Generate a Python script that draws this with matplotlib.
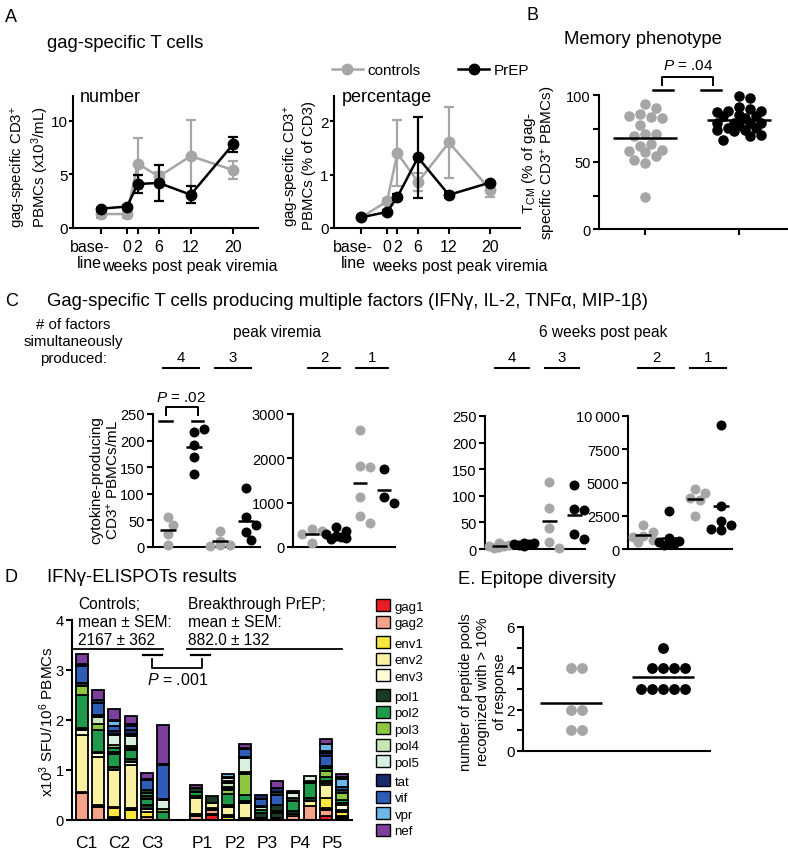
import numpy as np
import matplotlib
matplotlib.use('Agg')
import matplotlib.pyplot as plt
import matplotlib.transforms as mtrans
from matplotlib.patches import Patch
from matplotlib.lines import Line2D

plt.rcParams['font.family'] = ['Liberation Sans', 'DejaVu Sans']
plt.rcParams['mathtext.fontset'] = 'custom'
plt.rcParams['mathtext.rm'] = 'Liberation Sans'
plt.rcParams['mathtext.it'] = 'Liberation Sans:italic'
plt.rcParams['mathtext.bf'] = 'Liberation Sans:bold'

# ---------------- DATA ----------------
# Panel A
weeks_x = [-5, 0, 2, 6, 12, 20]
weeks_labels = ['base-\nline', '0', '2', '6', '12', '20']
num_ctrl = [1.3, 1.3, 6.0, 4.8, 6.7, 5.4]
num_ctrl_sem = [0.4, 0.4, 2.4, 0.4, 3.4, 0.8]
num_prep = [1.8, 2.0, 4.1, 4.2, 3.1, 7.8]
num_prep_sem = [0.1, 0.1, 0.8, 1.65, 0.8, 0.7]
pct_ctrl = [0.2, 0.5, 1.4, 0.86, 1.6, 0.72]
pct_ctrl_sem = [0.03, 0.05, 0.62, 0.16, 0.66, 0.14]
pct_prep = [0.2, 0.3, 0.58, 1.32, 0.62, 0.85]
pct_prep_sem = [0.02, 0.03, 0.05, 0.76, 0.05, 0.03]

# Panel B (% TCM)
tcm_ctrl = [93.3, 90.1, 86.0, 84.5, 83.3, 82.8, 77.8, 70.9, 70.9, 69.2,
            63.8, 61.8, 58.6, 58.1, 57.6, 54.4, 51.2, 49.5, 23.6]
tcm_prep = [99.3, 97.5, 91.4, 89.4, 88.4, 88.4, 87.0, 85.2, 84.5, 84.5,
            82.8, 79.0, 79.0, 79.0, 79.0, 77.8, 75.4, 75.4, 74.1, 74.1,
            72.9, 70.4, 69.7, 66.7]

# Panel C (cytokine-producing cells/mL)
peak_f4_ctrl = [57, 41, 24, 4]
peak_f4_prep = [217, 221, 192, 169, 137]
peak_f3_ctrl = [31, 12, 4, 2, 3]
peak_f3_prep = [110, 56, 41, 29, 13]
peak_f2_ctrl = [406, 368, 293, 83]
peak_f2_prep = [440, 360, 300, 250, 200, 180, 220]
peak_f1_ctrl = [2650, 1820, 1800, 1120, 700, 550]
peak_f1_prep = [1760, 1120, 1000]
wk6_f4_ctrl = [12, 8, 6, 5, 3, 2]
wk6_f4_prep = [12, 11, 10, 9, 8, 6]
wk6_f3_ctrl = [126, 78, 40, 14, 1]
wk6_f3_prep = [120, 76, 74, 28, 19]
wk6_f2_ctrl = [1800, 1250, 1000, 900, 650, 500]
wk6_f2_prep = [2850, 800, 600, 500, 400, 350, 300]
wk6_f1_ctrl = [4500, 4200, 3800, 3700, 2500]
wk6_f1_prep = [9300, 3200, 2100, 1800, 1500, 1450]

# Panel D (x10^3 SFU / 10^6 PBMCs), stacked segments bottom -> top
pool_names = ['gag1', 'gag2', 'env1', 'env2', 'env3', 'pol1', 'pol2', 'pol3',
              'pol4', 'pol5', 'tat', 'vif', 'vpr', 'nef']
pool_colors = ['#ec1c24', '#f4a38a', '#f8e73c', '#faf0a2', '#fefbd8', '#1b3a26',
               '#1f9a4a', '#8dc63f', '#c8e6b4', '#d8f0e2', '#1b2a6b', '#2e5cb6',
               '#6cb6e8', '#7d3f9c']
subjects = ['C1', 'C2', 'C3', 'P1', 'P2', 'P3', 'P4', 'P5']
C1a = [('gag2', .54), ('pol1', .03), ('env2', 1.14), ('env3', .09), ('pol1', .04), ('pol2', .67),
       ('pol3', .18), ('pol1', .06), ('vif', .33), ('tat', .04), ('nef', .20)]
C1b = [('gag2', .27), ('pol1', .03), ('env2', .97), ('env3', .07), ('pol1', .03), ('pol2', .43),
       ('pol3', .12), ('pol4', .14), ('pol1', .04), ('vif', .24), ('tat', .06), ('nef', .21)]
C2a = [('gag2', .03), ('pol1', .03), ('env1', .18), ('pol1', .03), ('env2', .74), ('pol1', .05),
       ('pol2', .26), ('pol1', .04), ('pol2', .08), ('pol3', .06), ('pol5', .20), ('pol1', .03),
       ('tat', .06), ('vif', .10), ('vpr', .09), ('tat', .03), ('nef', .21)]
C2b = [('env1', .21), ('pol1', .03), ('env2', .87), ('env3', .06), ('pol1', .06), ('pol2', .17),
       ('pol1', .04), ('pol3', .04), ('pol5', .21), ('pol1', .04), ('tat', .07), ('vif', .09),
       ('pol1', .03), ('nef', .16)]
C3a = [('gag2', .06), ('env1', .10), ('env3', .06), ('pol1', .08), ('pol2', .12), ('pol1', .06),
       ('pol2', .07), ('pol1', .05), ('vif', .20), ('tat', .03), ('nef', .12)]
C3b = [('pol2', .17), ('pol3', .05), ('pol5', .18), ('pol1', .02), ('vif', .69), ('pol1', .02),
       ('nef', .77)]
P1a = [('gag2', .08), ('pol1', .04), ('env2', .32), ('pol1', .05), ('pol2', .08), ('pol1', .07),
       ('nef', .06)]
P1b = [('gag1', .10), ('pol1', .03), ('gag2', .08), ('pol1', .04), ('env2', .09), ('pol1', .15)]
P2a = [('env1', .06), ('pol1', .05), ('env2', .15), ('pol1', .05), ('pol2', .21), ('pol3', .08),
       ('pol1', .02), ('pol2', .05), ('pol4', .08), ('pol1', .03), ('pol5', .07), ('pol1', .02),
       ('vpr', .06)]
P2b = [('gag2', .05), ('env2', .29), ('pol1', .04), ('pol2', .13), ('pol3', .42), ('pol1', .03),
       ('pol5', .29), ('pol1', .02), ('vif', .15), ('pol1', .03), ('nef', .08)]
P3a = [('gag2', .05), ('pol1', .10), ('pol2', .06), ('pol4', .05), ('pol1', .03), ('vif', .14),
       ('tat', .08)]
P3b = [('gag2', .05), ('pol1', .10), ('pol2', .04), ('pol1', .12), ('vif', .20), ('pol1', .06),
       ('tat', .07), ('nef', .15)]
P4a = [('gag2', .08), ('env2', .05), ('pol1', .05), ('pol2', .21), ('pol1', .05), ('pol5', .10),
       ('pol1', .04)]
P4b = [('gag2', .29), ('env2', .10), ('pol1', .05), ('pol2', .31), ('pol1', .03), ('pol5', .10)]
P5a = [('gag1', .08), ('gag2', .13), ('pol1', .04), ('env1', .19), ('env2', .26), ('env3', .05),
       ('pol1', .04), ('pol2', .07), ('pol3', .13), ('pol2', .06), ('pol1', .04), ('vif', .20),
       ('tat', .06), ('pol1', .03), ('vpr', .15), ('nef', .09)]
P5b = [('gag1', .05), ('pol1', .03), ('env1', .08), ('pol1', .05), ('env3', .10), ('pol1', .04),
       ('pol2', .06), ('pol3', .13), ('pol1', .06), ('vif', .07), ('vpr', .16), ('pol1', .03),
       ('nef', .07)]
bars_ctrl = [C1a, C1b, C2a, C2b, C3a, C3b]
bars_prep = [P1a, P1b, P2a, P2b, P3a, P3b, P4a, P4b, P5a, P5b]

# Panel E
pools_ctrl = [4, 4, 2, 2, 1, 1]
pools_prep = [5, 4, 4, 4, 4, 3, 3, 3, 3, 3]

# ---------------- FIGURE ----------------
W, H = 788, 853
fig = plt.figure(figsize=(W / 100, H / 100), dpi=100)
GRAY = '#a6a6a6'
FS = 10.5
TFS = 13.3


def add_ax(l, t, r, b):
    return fig.add_axes([l / W, 1 - b / H, (r - l) / W, (b - t) / H])


def style(ax, fs=FS):
    for s in ['top', 'right']:
        ax.spines[s].set_visible(False)
    for s in ['left', 'bottom']:
        ax.spines[s].set_linewidth(1.5)
    ax.tick_params(width=1.5, length=4, labelsize=fs, pad=2)


def ftext(x, y, s, **kw):
    return fig.text(x / W, 1 - y / H, s, **kw)


def swarm(ax, xc, vals, d, maxoff=60):
    tr = ax.transData
    x0 = tr.transform((xc, 0))[0]
    placed = []
    xs = []
    cands = [0.0]
    for i in range(1, 40):
        if i * d / 2 <= maxoff + 0.01:
            cands += [i * d / 2, -i * d / 2]
    for v in vals:
        y = tr.transform((xc, v))[1]
        best, bestd = cands[0], -1
        for c in cands:
            md = min([np.hypot(c - px, y - py) for px, py in placed] + [1e9])
            if md >= d * 0.96:
                best = c
                break
            if md > bestd + 0.5:
                best, bestd = c, md
        placed.append((best, y))
        xs.append(tr.inverted().transform((x0 + best, y))[0])
    return xs


def dots(ax, xc, vals, color, d, ms, half, maxoff=60):
    xs = swarm(ax, xc, vals, d, maxoff)
    ax.plot(xs, vals, 'o', color=color, ms=ms, mec='none', clip_on=False, zorder=3)
    ax.hlines(np.mean(vals), xc - half, xc + half, color='black', lw=1.8, zorder=4)


# ---- Panel A ----
ftext(5, 17, 'A', fontsize=13, va='center')
ftext(47, 43, 'gag-specific T cells', fontsize=TFS, va='center')

axN = add_ax(73, 97, 258, 229)
axP = add_ax(334, 97, 520, 229)
for ax, (c, cs, p, ps), yt, ylim, shift in [
        (axN, (num_ctrl, num_ctrl_sem, num_prep, num_prep_sem), [0, 5, 10], 12.3, -11),
        (axP, (pct_ctrl, pct_ctrl_sem, pct_prep, pct_prep_sem), [0, 1, 2], 2.47, -8)]:
    style(ax, fs=11.5)
    ax.errorbar(weeks_x, c, yerr=cs, color=GRAY, marker='o', ms=7.5, lw=1.8,
                capsize=3.5, elinewidth=1.6, capthick=1.6, clip_on=False, zorder=2)
    ax.errorbar(weeks_x, p, yerr=ps, color='black', marker='o', ms=7.5, lw=1.8,
                capsize=3.5, elinewidth=1.6, capthick=1.6, clip_on=False, zorder=3)
    ax.set_ylim(0, ylim)
    ax.set_yticks(yt)
    ax.tick_params(axis='y', length=3, pad=1, labelsize=11)
    ax.set_xticks(weeks_x)
    ax.set_xticklabels(weeks_labels, fontsize=11.5, linespacing=1.05)
    ax.tick_params(axis='x', pad=4)
    lab0 = ax.get_xticklabels()[0]
    lab0.set_transform(lab0.get_transform() +
                       mtrans.ScaledTranslation(shift / 100, 0, fig.dpi_scale_trans))
axN.set_xlim(-10.2, 24.7)
axP.set_xlim(-10.3, 25.8)
ftext(80, 98, 'number', fontsize=13, va='center')
ftext(342, 98, 'percentage', fontsize=13, va='center')
ftext(102, 266, 'weeks post peak viremia', fontsize=11.5, ha='left', va='center')
ftext(372, 266, 'weeks post peak viremia', fontsize=11.5, ha='left', va='center')
ftext(30, 167, 'gag-specific CD3$^{+}$\nPBMCs (x10$^{3}$/mL)', fontsize=10.8, rotation=90,
      ha='center', va='center', multialignment='center', linespacing=1.1)
ftext(299, 166, 'gag-specific CD3$^{+}$\nPBMCs (% of CD3)', fontsize=10.8, rotation=90,
      ha='center', va='center', multialignment='center', linespacing=1.1)
h_ctrl = Line2D([], [], color=GRAY, marker='o', ms=7.5, lw=1.8)
h_prep = Line2D([], [], color='black', marker='o', ms=7.5, lw=1.8)
axP.legend([h_ctrl, h_prep], ['controls', 'PrEP'], loc='center left', ncol=2,
           bbox_to_anchor=(332 / W, 1 - 71 / H), bbox_transform=fig.transFigure,
           frameon=False, fontsize=11, handlelength=2.0, handletextpad=0.3,
           columnspacing=2.5, borderpad=0, borderaxespad=0)

# ---- Panel B ----
ftext(527, 16, 'B', fontsize=13, va='center')
ftext(643, 40, 'Memory phenotype', fontsize=TFS, ha='center', va='center')
axB = add_ax(599, 96, 787, 230)
style(axB)
axB.set_ylim(0, 100)
axB.set_xlim(0.51, 2.51)
axB.set_yticks([0, 25, 50, 75, 100])
axB.set_yticklabels(['0', '', '50', '', '100'])
axB.set_xticks([1, 2])
axB.set_xticklabels(['', ''])
dots(axB, 1, tcm_ctrl, GRAY, 11, 7.6, 0.34, maxoff=23)
dots(axB, 2, tcm_prep, 'black', 11, 7.6, 0.34, maxoff=22)
for x1, x2 in [(1.085, 1.30), (1.596, 1.809)]:
    axB.plot([x1, x2], [103.7, 103.7], color='black', lw=1.8, clip_on=False)
axB.plot([1.18, 1.18, 1.72, 1.72], [107.5, 113.4, 113.4, 107.5], color='black', lw=1.4,
         clip_on=False)
axB.text(1.46, 122.4, '$\\it{P}$ = .04', ha='center', va='center', fontsize=11)
ftext(539, 163, 'T$_{\\rm CM}$ (% of gag-\nspecific CD3$^{+}$ PBMCs)', fontsize=11, rotation=90,
      ha='center', va='center', multialignment='center', linespacing=1.1)

# ---- Panel C ----
ftext(5, 302, 'C', fontsize=13, va='center')
ftext(47, 302, 'Gag-specific T cells producing multiple factors (IFN\u03b3, IL-2, TNF\u03b1, MIP-1\u03b2)',
      fontsize=TFS, va='center')
ftext(73, 342, '# of factors\nsimultaneously\nproduced:', fontsize=10.8, ha='center', va='center',
      multialignment='center', linespacing=1.3)
ftext(277, 333, 'peak viremia', fontsize=11.2, ha='center', va='center')
ftext(603, 333, '6 weeks post peak', fontsize=11.2, ha='center', va='center')

c_axes = [
    (add_ax(153, 415, 260, 548), (0.42, 4.54), 250, [0, 50, 100, 150, 200, 250], None,
     [peak_f4_ctrl, peak_f4_prep, peak_f3_ctrl, peak_f3_prep], ['4', '3']),
    (add_ax(293, 415, 395, 548), (0.21, 4.46), 3000, [0, 1000, 2000, 3000], None,
     [peak_f2_ctrl, peak_f2_prep, peak_f1_ctrl, peak_f1_prep], ['2', '1']),
    (add_ax(485, 417, 585, 550), (0.44, 4.44), 250, [0, 50, 100, 150, 200, 250], None,
     [wk6_f4_ctrl, wk6_f4_prep, wk6_f3_ctrl, wk6_f3_prep], ['4', '3']),
    (add_ax(628, 417, 732, 550), (0.42, 4.42), 10000, [0, 2500, 5000, 7500, 10000],
     ['0', '2500', '5000', '7500', '10\u2009000'],
     [wk6_f2_ctrl, wk6_f2_prep, wk6_f1_ctrl, wk6_f1_prep], ['2', '1']),
]
for ax, xl, ymax, yt, ytl, groups, flabels in c_axes:
    style(ax, fs=10.5)
    ax.set_xlim(*xl)
    ax.set_ylim(0, ymax)
    ax.set_yticks(yt)
    if ytl:
        ax.set_yticklabels(ytl)
    ax.set_xticks([])
    for i, g in enumerate(groups):
        dots(ax, i + 1, g, GRAY if i % 2 == 0 else 'black', 10, 7.2, 0.3, maxoff=10)
    bt = mtrans.blended_transform_factory(ax.transData, fig.transFigure)
    for xc, lab in zip([1.5, 3.5], flabels):
        ax.plot([xc - 0.68, xc + 0.68], [1 - 369 / H] * 2, color='black', lw=1.5,
                transform=bt, clip_on=False)
        ax.text(xc, 1 - 365 / H, lab, transform=bt, ha='center', va='bottom', fontsize=10.8)

axC1 = c_axes[0][0]
for x1, x2 in [(0.67, 1.15), (1.93, 2.33)]:
    axC1.plot([x1, x2], [236, 236], color='black', lw=1.8, clip_on=False)
axC1.plot([0.93, 0.93, 2.15, 2.15], [248, 264, 264, 248], color='black', lw=1.4, clip_on=False)
axC1.text(1.5, 282, '$\\it{P}$ = .02', ha='center', va='center', fontsize=11)
ftext(105, 480, 'cytokine-producing\nCD3$^{+}$ PBMCs/mL', fontsize=11, rotation=90,
      ha='center', va='center', multialignment='center', linespacing=1.1)

# ---- Panel D ----
ftext(5, 577, 'D', fontsize=13, va='center')
ftext(47, 577, 'IFN\u03b3-ELISPOTs results', fontsize=TFS, va='center')
axD = add_ax(72, 621, 352, 821)
style(axD, fs=10.5)
axD.set_ylim(0, 4)
axD.set_xlim(-0.6, 16.6)
axD.set_yticks([0, 1, 2, 3, 4])
cmap = dict(zip(pool_names, pool_colors))
positions = list(range(0, 6)) + list(range(7, 17))
for xpos, segs in zip(positions, bars_ctrl + bars_prep):
    bottom = 0.0
    for name, h in segs:
        axD.bar(xpos, h, bottom=bottom, width=0.74, color=cmap[name], edgecolor='black',
                linewidth=1.3, zorder=2)
        bottom += h
axD.set_xticks([0.3, 2.3, 4.3, 7.4, 9.4, 11.4, 13.4, 15.4])
axD.set_xticklabels(subjects, fontsize=12.5)
axD.tick_params(axis='x', length=0, pad=11)
axD.plot([-0.5, 5.0], [3.42, 3.42], color='black', lw=1.3, clip_on=False)
axD.plot([6.45, 16.0], [3.42, 3.42], color='black', lw=1.3, clip_on=False)
for x1, x2 in [(3.75, 4.9), (6.7, 7.9)]:
    axD.plot([x1, x2], [3.31, 3.31], color='black', lw=1.6, clip_on=False)
axD.plot([4.3, 4.3, 7.4, 7.4], [3.22, 3.05, 3.05, 3.22], color='black', lw=1.3)
axD.text(5.9, 2.82, '$\\it{P}$ = .001', ha='center', va='center', fontsize=11.5)
ftext(78, 623, 'Controls;\nmean \u00b1 SEM:\n2167 \u00b1 362', fontsize=11.2, va='center',
      linespacing=1.25)
ftext(188, 623, 'Breakthrough PrEP;\nmean \u00b1 SEM:\n882.0 \u00b1 132', fontsize=11.2,
      va='center', linespacing=1.25)
ftext(47, 722, 'x10$^{3}$ SFU/10$^{6}$ PBMCs', fontsize=11, rotation=90, ha='center',
      va='center')

# legend in groups
groups_idx = [(0, 2, 600), (2, 5, 637), (5, 10, 690), (10, 14, 775)]
for a, b, ytop in groups_idx:
    hs = [Patch(facecolor=pool_colors[i], edgecolor='black', linewidth=1.0) for i in range(a, b)]
    fig.legend(hs, pool_names[a:b], loc='upper left', bbox_to_anchor=(376 / W, 1 - ytop / H),
               frameon=False, borderpad=0, borderaxespad=0, handlelength=1.05, handleheight=1.05,
               labelspacing=0.22, handletextpad=0.35, fontsize=9.5)

# ---- Panel E ----
ftext(458, 579, 'E. Epitope diversity', fontsize=TFS, va='center')
axE = add_ax(523, 628, 710, 752)
style(axE, fs=11)
axE.set_ylim(0, 6)
axE.set_xlim(0.48, 2.51)
axE.set_yticks([0, 2, 4, 6])
axE.set_yticks([1, 3, 5], minor=True)
axE.tick_params(which='minor', width=1.5, length=4)
axE.set_xticks([])
dots(axE, 1, pools_ctrl, GRAY, 11, 7.8, 0.34)
dots(axE, 2, pools_prep, 'black', 11, 7.8, 0.34)
ftext(483, 692, 'number of peptide pools\nrecognized with > 10%\nof response', fontsize=10.5,
      rotation=90, ha='center', va='center', multialignment='center', linespacing=1.3)

fig.savefig('out.png', dpi=100)
